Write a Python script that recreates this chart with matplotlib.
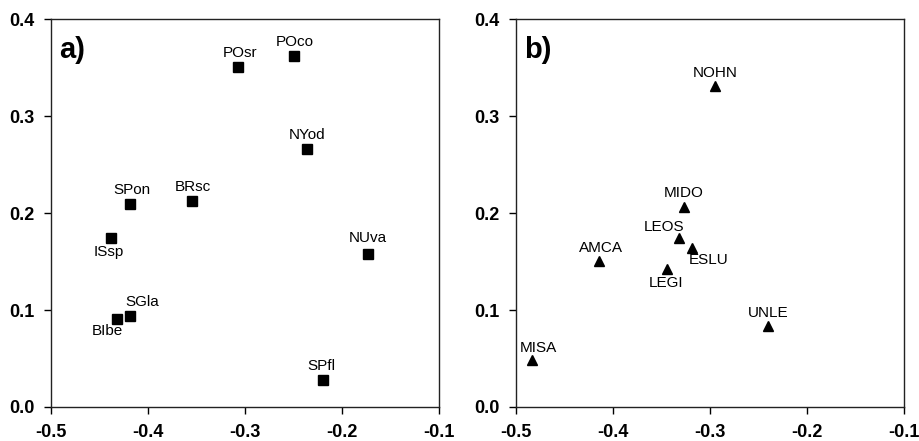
import matplotlib
matplotlib.use("Agg")
import matplotlib.pyplot as plt

plt.rcParams['font.family'] = ['Liberation Sans', 'DejaVu Sans']

# Panel a data
a_labels = ["POsr", "POco", "NYod", "SPon", "BRsc", "ISsp", "NUva", "SGla", "BIbe", "SPfl"]
a_x = [-0.307, -0.249, -0.236, -0.419, -0.355, -0.438, -0.173, -0.419, -0.432, -0.220]
a_y = [0.351, 0.362, 0.266, 0.209, 0.212, 0.174, 0.158, 0.094, 0.091, 0.028]
# label offsets in points
a_off = [(1, 10), (0, 10), (0, 10), (2, 10), (1, 10), (-2, -10), (0, 11), (9, 10), (-7, -9), (-1, 10)]

# Panel b data
b_labels = ["NOHN", "MIDO", "LEOS", "ESLU", "AMCA", "LEGI", "UNLE", "MISA"]
b_x = [-0.295, -0.327, -0.332, -0.319, -0.414, -0.344, -0.240, -0.484]
b_y = [0.331, 0.206, 0.174, 0.164, 0.151, 0.142, 0.083, 0.048]
b_off = [(0, 9), (0, 10), (-11, 8), (12, -9), (1, 9), (-1, -10), (0, 10), (5, 9)]

xticks = [-0.5, -0.4, -0.3, -0.2, -0.1]
yticks = [0.0, 0.1, 0.2, 0.3, 0.4]

fig = plt.figure(figsize=(9.19, 4.41), dpi=100)
ax1 = fig.add_axes([0.0555, 0.0771, 0.4222, 0.8798])
ax2 = fig.add_axes([0.5615, 0.0771, 0.4222, 0.8798])

def style(ax, panel):
    ax.set_xlim(-0.5, -0.1)
    ax.set_ylim(0.0, 0.4)
    ax.set_xticks(xticks)
    ax.set_yticks(yticks)
    ax.set_xticklabels([f"{t:.1f}" for t in xticks])
    ax.set_yticklabels([f"{t:.1f}" for t in yticks])
    ax.tick_params(direction='out', length=5, width=1, pad=7, labelsize=13,
                   top=False, right=False)
    for lab in ax.get_xticklabels() + ax.get_yticklabels():
        lab.set_fontweight('bold')
    for s in ax.spines.values():
        s.set_linewidth(1)
        s.set_color('#222222')
    ax.text(0.02, 0.955, panel, transform=ax.transAxes, fontsize=21,
            fontweight='bold', va='top', ha='left')

ax1.plot(a_x, a_y, 's', color='black', markersize=7, linestyle='none')
for lab, x, y, (dx, dy) in zip(a_labels, a_x, a_y, a_off):
    ax1.annotate(lab, (x, y), xytext=(dx, dy), textcoords='offset points',
                 ha='center', va='center', fontsize=11)
style(ax1, 'a)')

ax2.plot(b_x, b_y, '^', color='black', markersize=7, linestyle='none')
for lab, x, y, (dx, dy) in zip(b_labels, b_x, b_y, b_off):
    ax2.annotate(lab, (x, y), xytext=(dx, dy), textcoords='offset points',
                 ha='center', va='center', fontsize=11)
style(ax2, 'b)')

fig.savefig("out.png", dpi=100)
